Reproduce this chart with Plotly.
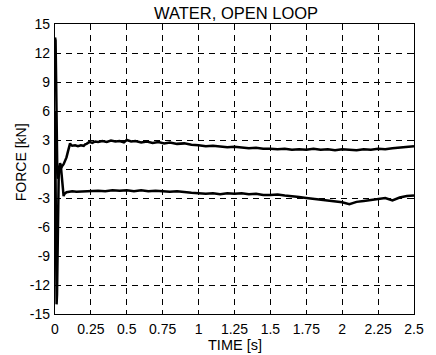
import plotly.graph_objects as go

# Time axis samples (s)
t_upper = [0, 0.004, 0.008, 0.012, 0.016, 0.02, 0.025, 0.03, 0.035, 0.04, 0.05, 0.06, 0.07, 0.08, 0.09, 0.1, 0.105, 0.11,
           0.12, 0.14, 0.16, 0.18, 0.2, 0.21, 0.22, 0.24, 0.26, 0.28, 0.3, 0.33, 0.36, 0.39, 0.42, 0.45, 0.48, 0.5,
           0.53, 0.56, 0.6, 0.64, 0.68, 0.72, 0.76, 0.8, 0.85, 0.9, 0.95, 1.0, 1.05, 1.1, 1.15, 1.2, 1.25, 1.3,
           1.35, 1.4, 1.45, 1.5, 1.55, 1.6, 1.65, 1.7, 1.75, 1.8, 1.85, 1.9, 1.95, 2.0, 2.05, 2.1, 2.15, 2.2,
           2.25, 2.3, 2.35, 2.4, 2.45, 2.5]
f_upper = [13.6, 13.3, 9.0, 3.0, -0.4, -1.0, -0.8, -0.4, -0.1, 0.1, 0.3, 0.5, 0.8, 1.2, 1.8, 2.4, 2.65, 2.5,
           2.4, 2.45, 2.35, 2.45, 2.4, 2.55, 2.6, 2.8, 2.7, 2.85, 2.8, 2.9, 2.8, 2.95, 2.85, 2.9, 2.75, 3.0,
           2.85, 2.9, 2.75, 2.85, 2.7, 2.8, 2.65, 2.75, 2.6, 2.65, 2.5, 2.45, 2.35, 2.4, 2.3, 2.25, 2.3, 2.2,
           2.15, 2.2, 2.1, 2.1, 2.05, 2.1, 2.0, 2.05, 2.0, 2.1, 2.0, 2.05, 1.95, 2.05, 2.0, 1.95, 2.05, 2.0,
           2.1, 2.05, 2.15, 2.2, 2.25, 2.35]

t_lower = [0, 0.004, 0.008, 0.011, 0.014, 0.018, 0.022, 0.026, 0.03, 0.035, 0.04, 0.045, 0.05, 0.055, 0.06, 0.065,
           0.07, 0.08, 0.1, 0.12, 0.15, 0.2, 0.25, 0.3, 0.35, 0.4, 0.45, 0.5, 0.55, 0.6, 0.65, 0.7, 0.75,
           0.8, 0.85, 0.9, 0.95, 1.0, 1.05, 1.1, 1.15, 1.2, 1.25, 1.3, 1.35, 1.4, 1.45, 1.5, 1.55, 1.6, 1.65,
           1.7, 1.75, 1.8, 1.85, 1.9, 1.95, 2.0, 2.05, 2.1, 2.15, 2.2, 2.25, 2.3, 2.35, 2.4, 2.45, 2.5]
f_lower = [6.0, -6.0, -13.0, -14.0, -13.0, -8.0, -3.0, -0.5, 0.3, 0.6, 0.4, -0.3, -1.2, -2.2, -2.8, -2.6,
           -2.5, -2.4, -2.35, -2.3, -2.35, -2.3, -2.3, -2.25, -2.3, -2.2, -2.25, -2.2, -2.3, -2.2, -2.3, -2.25, -2.3,
           -2.35, -2.3, -2.4, -2.45, -2.5, -2.55, -2.5, -2.6, -2.5, -2.55, -2.5, -2.6, -2.55, -2.7, -2.7, -2.65, -2.75, -2.8,
           -2.9, -3.0, -3.1, -3.2, -3.3, -3.35, -3.45, -3.65, -3.4, -3.3, -3.2, -3.15, -3.0, -3.25, -2.95, -2.8, -2.75]

x_ticks = [0, 0.25, 0.5, 0.75, 1, 1.25, 1.5, 1.75, 2, 2.25, 2.5]
x_tick_labels = ["0", "0.25", "0.5", "0.75", "1", "1.25", "1.5", "1.75", "2", "2.25", "2.5"]
y_ticks = [-15, -12, -9, -6, -3, 0, 3, 6, 9, 12, 15]
y_tick_labels = ["-15", "-12", "-9", "-6", "-3", "0", "3", "6", "9", "12", "15"]

FAM = "Liberation Sans, Arial, sans-serif"
W, H = 436, 355
L, R, T, B = 55, 14, 24, 41

fig = go.Figure()
for tx, fy in [(t_upper, f_upper), (t_lower, f_lower)]:
    fig.add_trace(go.Scatter(x=tx, y=fy, mode="lines",
                             line=dict(color="black", width=2.5), showlegend=False))

axis_common = dict(showline=True, linecolor="black", linewidth=1.2, mirror="allticks",
                   ticks="inside", ticklen=4, tickcolor="black", showgrid=True,
                   gridcolor="black", gridwidth=1, griddash="6px,5px", zeroline=False,
                   tickfont=dict(family=FAM, size=14, color="black"))

fig.update_xaxes(range=[0, 2.5], tickvals=x_ticks, ticktext=x_tick_labels,
                 ticklabelstandoff=2, **axis_common)
fig.update_yaxes(range=[-15, 15], tickvals=y_ticks, ticktext=y_tick_labels,
                 ticklabelstandoff=1, **axis_common)

pw, ph = W - L - R, H - T - B
annotations = [
    dict(text="TIME [s]", xref="paper", yref="paper", x=(239 - L) / pw, y=(H - B - 345) / ph,
         xanchor="center", yanchor="middle", showarrow=False, font=dict(family=FAM, size=14.5, color="black")),
    dict(text="FORCE [kN]", xref="paper", yref="paper", x=(20 - L) / pw, y=(H - B - 162.5) / ph,
         xanchor="center", yanchor="middle", textangle=-90, showarrow=False,
         font=dict(family=FAM, size=14, color="black")),
    dict(text="WATER, OPEN LOOP", xref="paper", yref="paper", x=(240 - L) / pw, y=(H - B - 13) / ph,
         xanchor="center", yanchor="middle", showarrow=False, font=dict(family=FAM, size=16.5, color="black")),
]

fig.update_layout(
    width=W, height=H,
    margin=dict(l=L, r=R, t=T, b=B),
    paper_bgcolor="white", plot_bgcolor="white",
    font=dict(family=FAM, size=14, color="black"),
    annotations=annotations,
)

fig.write_html("out.html")
